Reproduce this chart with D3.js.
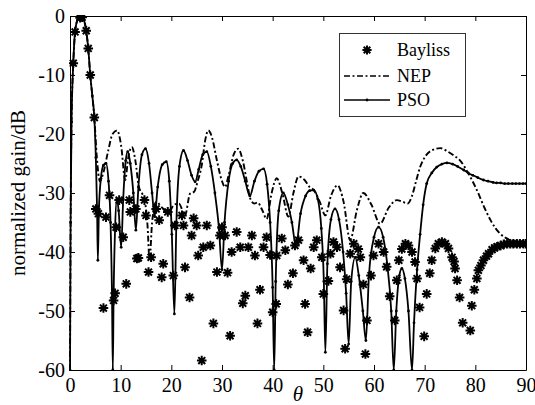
<!DOCTYPE html>
<html>
<head>
<meta charset="utf-8">
<script src="https://cdn.jsdelivr.net/npm/d3@7"></script>
<style>
	body { margin: 0; background: #fff; }
	svg { display: block; }
	svg text { font-family: "Liberation Serif", "Times New Roman", Times, "DejaVu Serif", serif; fill: #000; }
</style>
</head>
<body>
<div id="chart"></div>
<script>
// Chart size and plot margins
const width = 535;
const height = 405;
const margin = { top: 16, left: 70, right: 9, bottom: 35 };
const serif = '"Liberation Serif", "Times New Roman", Times, "DejaVu Serif", serif';

// Tick values on both axes
const xTicks = [0, 10, 20, 30, 40, 50, 60, 70, 80, 90];
const yTicks = [0, -10, -20, -30, -40, -50, -60];

// Legend entries
const legendNames = ['Bayliss', 'NEP', 'PSO'];

// Bayliss pattern samples [theta, gain dB]
const bayliss = [
	[0.65, -8], [1.0, -2.7], [2.0, -0.3], [2.4, -0.2], [3.2, -2.5], [3.6, -5.5], [4.0, -10], [4.8, -17.2],
	[5.1, -32.7], [5.6, -33.5], [6.6, -49.5], [7.1, -34.1], [7.8, -30.4], [8.6, -48.2], [8.9, -47],
	[9.1, -35.8], [9.7, -31.2], [10.5, -37.5], [11.1, -45.4], [11.7, -31.2], [11.9, -33.2], [13.0, -32.7],
	[13.2, -41.1], [13.5, -41.0], [14.7, -31.2], [15.0, -33.8], [15.5, -43.4], [16.0, -40.9], [17.0, -32.7],
	[17.6, -34.6], [18.1, -44.3], [18.4, -42], [19.3, -33.2], [20.4, -44], [20.7, -35.5], [22.1, -33.8],
	[22.4, -35.5], [22.7, -42.6], [23.6, -47.7], [24.0, -37.2], [24.4, -34.3], [25.0, -35.5], [25.3, -40.6],
	[26.0, -58.4], [26.3, -39.2], [27.0, -35.5], [27.7, -38.9], [28.3, -52.1], [29.0, -43.4], [29.6, -37.2],
	[30.0, -35.8], [30.6, -37.2], [31.1, -43.5], [31.6, -54.2], [31.9, -40], [32.9, -36.6], [33.6, -39.2],
	[34.1, -48.7], [34.6, -47.4], [35.2, -39.2], [35.9, -37.2], [36.5, -40.6], [37.0, -52.1], [37.5, -46.4],
	[38.2, -39.2], [38.8, -37.5], [39.5, -40.5], [40.0, -50.2], [40.7, -48.8], [40.8, -40.6], [41.8, -37.7],
	[42.5, -39.7], [43.0, -45.5], [44.0, -43.6], [44.4, -38.9], [45.1, -38], [46.1, -41.4], [46.4, -48.8],
	[46.9, -53.6], [47.5, -42.8], [48.1, -39.2], [48.7, -38], [49.7, -40.9], [50.0, -47.1], [51.0, -44.9],
	[51.4, -40.3], [52.0, -38.3], [52.7, -39.2], [53.3, -42.6], [54.0, -49.9], [54.3, -56.4], [54.6, -44.6],
	[55.3, -40.3], [56.0, -38.6], [56.9, -39.5], [57.3, -40.9], [57.9, -45.5], [58.3, -57.3], [58.6, -51.6],
	[59.4, -44], [59.9, -40.6], [60.9, -38.6], [61.9, -40], [62.5, -42.5], [63.1, -47.5], [64.1, -51.6],
	[64.5, -44.8], [64.9, -41.4], [65.5, -39.5], [66.2, -38.6], [66.8, -38.9], [67.5, -40], [68.1, -41.7],
	[68.5, -44.5], [69.0, -49.4], [69.9, -54.3], [70.4, -47.1], [71.0, -43.6], [71.4, -41.4], [72.1, -39.4],
	[72.7, -38.6], [73.4, -38.3], [74.1, -38.6], [74.7, -39.4], [75.4, -40.9], [75.8, -41.6], [76.0, -42.8],
	[76.4, -44.8], [76.9, -47.7], [77.5, -52], [79.0, -53.3], [79.3, -49.1], [79.8, -46.4], [80.3, -44.5],
	[80.6, -43.1], [81.1, -42.3], [81.6, -41.4], [82.2, -40.7], [82.6, -40.3], [83.3, -39.6], [83.8, -39.3],
	[84.3, -39.1], [85.0, -38.9], [85.6, -38.7], [86.3, -38.6], [86.9, -38.6], [87.5, -38.6], [88.2, -38.6],
	[88.8, -38.6], [89.5, -38.6], [90.0, -38.6]
];

// NEP pattern [theta, gain dB]
const nep = [
	[0, -60], [0.12, -35], [0.3, -18], [0.65, -8], [1.0, -2.7], [1.5, -0.6], [2.1, 0], [2.6, -0.4],
	[3.2, -2.5], [3.6, -5.5], [4.0, -10], [4.4, -13.5], [4.8, -17.2], [5.3, -24], [5.9, -28], [6.6, -26.5],
	[7.5, -23], [8.4, -20], [9.3, -19.4], [10.1, -22], [10.9, -27.8], [11.5, -24], [12.2, -22.2], [12.9, -24.5],
	[13.6, -29], [14.3, -30.2], [14.8, -31.5], [15.3, -35.5], [15.7, -41.4], [16.2, -35], [17.0, -31.5],
	[18.2, -32.5], [19.4, -33.5], [20.5, -32], [21.5, -31.8], [22.7, -33.8], [23.7, -30.1], [24.5, -29.8],
	[25.2, -28], [26.0, -25.3], [26.7, -21], [27.3, -19.4], [28.0, -20.5], [29.0, -24.5], [30.0, -28],
	[30.6, -29], [31.3, -27], [32.3, -23.5], [33.2, -22.5], [34.1, -24.5], [35.0, -28.5], [35.6, -31],
	[36.4, -31.8], [37.0, -31.6], [38.0, -33], [38.8, -34.4], [39.8, -30], [40.8, -27.5], [41.9, -30],
	[43.1, -34], [44.1, -30], [45.1, -27.2], [46.3, -27.8], [47.3, -29], [48.1, -29.5], [49.3, -31.5],
	[50.4, -33.8], [51.5, -30.5], [52.8, -28.7], [54.0, -31.5], [55.3, -38], [56.6, -33], [57.9, -30],
	[59.5, -32], [61.2, -35.2], [62.9, -32.5], [64.5, -31.2], [65.7, -31.5], [66.6, -31.8], [67.5, -30.5],
	[68.3, -28], [69.1, -25.6], [70.2, -23.7], [71.6, -22.7], [73.1, -22.4], [74.6, -23], [76.0, -23.8],
	[77.0, -24.5], [78.5, -26.5], [80.3, -29.5], [81.8, -32.5], [83.0, -34.6], [84.0, -36], [84.9, -36.9],
	[86.0, -37.6], [86.9, -38], [88.5, -38.3], [90, -38.4]
];

// PSO pattern [theta, gain dB]
const pso = [
	[0, -60], [0.12, -35], [0.3, -18], [0.65, -8], [1.0, -2.7], [1.5, -0.6], [2.1, 0], [2.6, -0.4],
	[3.2, -2.5], [3.6, -5.5], [4.0, -10], [4.4, -13.5], [4.8, -17.2], [5.1, -24], [5.35, -33], [5.5, -41.4],
	[5.7, -33], [6.1, -27.5], [6.6, -25.3], [7.1, -25], [7.6, -28], [8.0, -35], [8.3, -48], [8.45, -60],
	[8.6, -48], [8.9, -36], [9.25, -31], [9.6, -33], [10.1, -39.2], [10.5, -31], [11.0, -24.5], [11.4, -23],
	[11.9, -25], [12.5, -30], [13.0, -36.3], [13.5, -29], [14.2, -23.5], [14.9, -22.5], [15.6, -25],
	[16.2, -30], [16.7, -34], [17.3, -29], [18.2, -25.2], [19.0, -24.7], [19.6, -28], [20.1, -37],
	[20.6, -50.5], [21.0, -35], [21.6, -25.5], [22.4, -22.8], [23.2, -24.5], [24.0, -27], [24.7, -28.1],
	[25.4, -26], [26.2, -23.5], [27.0, -23], [27.8, -25.5], [28.6, -30], [29.4, -36], [30.0, -43],
	[30.5, -35], [31.3, -28], [32.1, -25], [32.9, -24.4], [33.7, -25.5], [34.6, -28], [35.5, -30.5],
	[36.4, -28], [37.3, -26.3], [38.2, -25.9], [38.9, -28.5], [39.5, -35], [40.0, -46], [40.3, -60],
	[40.6, -45], [41.2, -33], [42.1, -30], [43.0, -32], [43.8, -35], [44.6, -39], [45.5, -33.5],
	[46.5, -30.5], [47.3, -29.6], [48.1, -29.5], [48.9, -31], [49.6, -36], [50.1, -45], [50.4, -57],
	[50.8, -42], [51.5, -34.5], [52.3, -32.7], [53.1, -34.5], [53.9, -40], [54.5, -47], [55.0, -55.6],
	[55.5, -45], [56.3, -40.9], [57.0, -44], [57.8, -50], [58.4, -55], [59.0, -44], [60.0, -37.5],
	[60.9, -35.8], [61.8, -37.5], [62.6, -42], [63.4, -50], [63.9, -60], [64.4, -50], [65.0, -44],
	[65.5, -42.8], [66.1, -44.5], [66.8, -50], [67.5, -60], [67.9, -52], [68.5, -43], [69.1, -37],
	[69.7, -32], [70.4, -28.4], [71.4, -26.6], [72.4, -25.6], [73.4, -25.1], [74.4, -24.9], [75.5, -25.1],
	[76.5, -25.5], [77.7, -26.1], [78.6, -26.6], [79.5, -27], [80.5, -27.4], [81.6, -27.8], [82.5, -28],
	[83.5, -28.2], [84.2, -28.3], [85, -28.3], [85.8, -28.4], [86.5, -28.4], [87.3, -28.4], [88, -28.4],
	[88.7, -28.4], [89.4, -28.4], [90, -28.4]
];

// Asterisk marker (plus + cross) path
const starPath = (r) => {
	const d = r * 0.72;
	return `M${-r},0H${r}M0,${-r}V${r}M${-d},${-d}L${d},${d}M${-d},${d}L${d},${-d}`;
};

const innerW = width - margin.left - margin.right;
const innerH = height - margin.top - margin.bottom;

const svg = d3.select('#chart')
	.append('svg')
	.attr('width', width)
	.attr('height', height)
	.attr('font-family', serif);

// Scales
const xScale = d3.scaleLinear().domain([0, 90]).range([0, innerW]);
const yScale = d3.scaleLinear().domain([-60, 0]).range([innerH, 0]);

// Clip to the plot box
svg.append('defs')
	.append('clipPath')
	.attr('id', 'plot-clip')
	.append('rect')
	.attr('x', -1)
	.attr('y', -1)
	.attr('width', innerW + 2)
	.attr('height', innerH + 2);

const plot = svg.append('g')
	.attr('transform', `translate(${margin.left}, ${margin.top})`);

const body = plot.append('g')
	.attr('clip-path', 'url(#plot-clip)');

const line = d3.line()
	.x(d => xScale(d[0]))
	.y(d => yScale(d[1]))
	.curve(d3.curveMonotoneX);

// NEP dash-dot line
body.append('path')
	.datum(nep)
	.attr('fill', 'none')
	.attr('stroke', '#000')
	.attr('stroke-width', 1.9)
	.attr('stroke-dasharray', '6,2.5,2,2.5')
	.attr('d', line);

// PSO solid line with small dots
body.append('path')
	.datum(pso)
	.attr('fill', 'none')
	.attr('stroke', '#000')
	.attr('stroke-width', 1.8)
	.attr('d', line);

body.selectAll('circle.pso')
	.data(pso)
	.enter()
	.append('circle')
	.attr('class', 'pso')
	.attr('cx', d => xScale(d[0]))
	.attr('cy', d => yScale(d[1]))
	.attr('r', 1.4)
	.attr('fill', '#000');

// Bayliss asterisks
body.selectAll('path.bayliss')
	.data(bayliss)
	.enter()
	.append('path')
	.attr('class', 'bayliss')
	.attr('transform', d => `translate(${xScale(d[0])}, ${yScale(d[1])})`)
	.attr('d', starPath(4.8))
	.attr('fill', 'none')
	.attr('stroke', '#000')
	.attr('stroke-width', 2);

// Axes: ticks inside, box all round (hyphen minus, as in the figure)
const tickLen = 5;
const fmt = d => String(d);
const xBottom = d3.axisBottom(xScale).tickValues(xTicks).tickSizeInner(-tickLen).tickSizeOuter(0).tickPadding(8).tickFormat(fmt);
const xTop = d3.axisTop(xScale).tickValues(xTicks).tickSizeInner(-tickLen).tickSizeOuter(0).tickFormat('');
const yLeft = d3.axisLeft(yScale).tickValues(yTicks).tickSizeInner(-tickLen).tickSizeOuter(0).tickPadding(5).tickFormat(fmt);
const yRight = d3.axisRight(yScale).tickValues(yTicks).tickSizeInner(-tickLen).tickSizeOuter(0).tickFormat('');

const styleAxis = g => {
	g.attr('font-family', serif).attr('font-size', 20);
	g.select('.domain').attr('stroke', '#000').attr('stroke-width', 1);
	g.selectAll('.tick line').attr('stroke', '#000');
	g.selectAll('.tick text').attr('fill', '#000');
};

plot.append('g').attr('transform', `translate(0, ${innerH})`).call(xBottom).call(styleAxis);
plot.append('g').call(xTop).call(styleAxis);
plot.append('g').call(yLeft).call(styleAxis);
plot.append('g').attr('transform', `translate(${innerW}, 0)`).call(yRight).call(styleAxis);

// Axis labels
svg.append('text')
	.attr('transform', `translate(25, ${margin.top + innerH / 2}) rotate(-90)`)
	.attr('text-anchor', 'middle')
	.attr('font-size', 21)
	.text('normalized gain/dB');

svg.append('text')
	.attr('x', margin.left + innerW / 2)
	.attr('y', 401)
	.attr('text-anchor', 'middle')
	.attr('font-size', 21)
	.attr('font-style', 'italic')
	.text('θ');

// Legend
const legend = svg.append('g').attr('class', 'legend');
legend.append('rect')
	.attr('x', 339.5)
	.attr('y', 33.5)
	.attr('width', 126)
	.attr('height', 83)
	.attr('fill', '#fff')
	.attr('stroke', '#333')
	.attr('stroke-width', 1);

const legendY = [50, 76, 100];
legendNames.forEach((name, i) => {
	const y = legendY[i];
	if (name === 'Bayliss') {
		legend.append('path')
			.attr('transform', `translate(367, ${y})`)
			.attr('d', starPath(4.6))
			.attr('stroke', '#000')
			.attr('stroke-width', 2);
	} else {
		legend.append('line')
			.attr('x1', 344).attr('x2', 390)
			.attr('y1', y).attr('y2', y)
			.attr('stroke', '#000')
			.attr('stroke-width', 1.6)
			.attr('stroke-dasharray', name === 'NEP' ? '6,2.5,2,2.5' : null);
		if (name === 'PSO') {
			legend.append('circle').attr('cx', 367).attr('cy', y).attr('r', 1.4).attr('fill', '#000');
		}
	}
	legend.append('text')
		.attr('x', 397)
		.attr('y', y)
		.attr('dy', '0.35em')
		.attr('font-size', 18)
		.text(name);
});
</script>
</body>
</html>
